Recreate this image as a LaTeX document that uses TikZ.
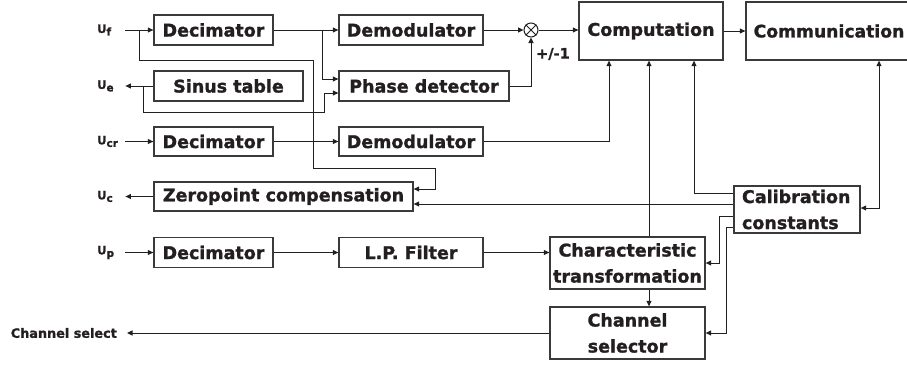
\documentclass[tikz,border=0pt]{standalone}
\usepackage{fontspec}
\setmainfont{DejaVu Sans}[BoldFeatures={FakeBold=1.3}]
\usetikzlibrary{arrows.meta}
\definecolor{Ink}{HTML}{231F20}
\definecolor{Frame}{HTML}{3A3A3A}
\newcommand{\sig}[1]{U\raisebox{-2.5pt}{\fontsize{10.5}{10.5}\selectfont #1}}
\tikzset{
  block/.style={draw=Frame, line width=1.3pt, text=Ink, inner sep=0pt,
    font=\fontsize{17.5}{26}\selectfont\bfseries},
  port/.style={text=Ink, inner sep=0pt, anchor=west, text width=28pt, align=left,
    font=\fontsize{11.5}{11.5}\selectfont\bfseries},
  wire/.style={draw=Ink, line width=1pt},
  feed/.style={wire, -{Triangle[length=5.5pt,width=5pt]}},
  both/.style={wire, {Triangle[length=5.5pt,width=5pt]}-{Triangle[length=5.5pt,width=5pt]}},
}

\begin{document}
\begin{tikzpicture}[x=1pt,y=-1pt]
    \useasboundingbox (0,0) rectangle (907,364);

    % signals on the left
    \node[port] (uf) at (97,30) {\sig{f}};
    \node[port] (ue) at (97,86) {\sig{e}};
    \node[port] (ucr) at (97,141.5) {\sig{cr}};
    \node[port] (uc) at (97,196.5) {\sig{c}};
    \node[port] (up) at (97,252.5) {\sig{p}};
    \node[text=Ink, inner ysep=0pt, inner xsep=10pt, anchor=east,
      font=\fontsize{12.8}{13}\selectfont\bfseries] (chout) at (127,333) {Channel select};

    % blocks
    \node[block, minimum width=119pt, minimum height=30pt] (dec1) at (213.5,30) {Decimator};
    \node[block, minimum width=149pt, minimum height=30pt] (sinus) at (228.5,86) {Sinus table};
    \node[block, minimum width=144pt, minimum height=30pt] (demod1) at (411,30) {Demodulator};
    \node[block, minimum width=170pt, minimum height=30pt] (phase) at (424,86) {Phase detector};
    \node[block, minimum width=119pt, minimum height=29pt] (dec2) at (213.5,141.5) {Decimator};
    \node[block, minimum width=144pt, minimum height=29pt] (demod2) at (411,141.5) {Demodulator};
    \node[block, minimum width=259pt, minimum height=29pt] (zero) at (283.5,196.5) {Zeropoint compensation};
    \node[block, minimum width=119pt, minimum height=30pt] (dec3) at (213.5,252.5) {Decimator};
    \node[block, minimum width=144pt, minimum height=30pt] (lpf) at (411,252.5) {L.P. Filter};
    \node[block, minimum width=155pt, minimum height=52pt, align=center] (char) at (627.5,263) {Characteristic\\transformation};
    \node[block, minimum width=155pt, minimum height=52pt, align=center] (chsel) at (627.5,333) {Channel\\selector};
    \node[block, minimum width=144pt, minimum height=58pt] (comp) at (651,31) {Computation};
    \node[block, minimum width=166pt, minimum height=58pt, font=\fontsize{17.2}{26}\selectfont\bfseries] (comm) at (829,31) {Communication};
    \node[block, minimum height=47pt, text width=110pt, inner xsep=8pt, align=left] (calib) at (797,209.5) {Calibration\\constants};

    % multiplier
    \node[draw=Ink, line width=1pt, circle, minimum size=14pt, inner sep=0pt] (mult) at (531,30) {};
    \draw[wire] (mult.north west) -- (mult.south east) (mult.north east) -- (mult.south west);
    \node[text=Ink, inner sep=0pt, anchor=west, font=\fontsize{14.5}{14.5}\selectfont\bfseries] (gain) at (536,54) {+/-1};

    \coordinate (jf) at (139,30);
    \coordinate (jd) at (322,30);
    \coordinate (js) at (143,86);

    % upper paths
    \draw[feed] (uf.east) -- (dec1.west);
    \draw[feed] (jf) |- (313,60) |- (435,168) |- ([yshift=7.5pt]zero.east);
    \draw[feed] (dec1.east) -- (demod1.west);
    \draw[feed] (jd) |- ([yshift=7pt]phase.west);
    \draw[feed] (sinus.west) -- (ue.east);
    \draw[feed] (js) |- (324,112) |- ([yshift=-7pt]phase.west);
    \draw[feed] (demod1.east) -- (mult.west);
    \draw[feed] (phase.east) -| (mult.south);
    \draw[feed] (mult.east) -- (mult.east -| comp.west);
    \draw[feed] (comp.east) -- (comp.east -| comm.west);

    % middle paths
    \draw[feed] (ucr.east) -- (dec2.west);
    \draw[feed] (dec2.east) -- (demod2.west);
    \draw[feed] (demod2.east) -| ([xshift=-42pt]comp.south);
    \draw[feed] (zero.west) -- (uc.east);

    % calibration
    \draw[feed] ([yshift=16.5pt]calib.west) -| ([xshift=43pt]comp.south);
    \draw[both] ([yshift=1.5pt]calib.east) -| ([xshift=50pt]comm.south);
    \draw[feed] ([yshift=5.5pt]calib.west) -- ([yshift=-7.5pt]zero.east);
    \draw[feed] ([yshift=-6.5pt]calib.west) -- ++(-14,0) |- (char.east);
    \draw[feed] ([yshift=-17.5pt]calib.west) -- ++(-7,0) |- (chsel.east);

    % lower paths
    \draw[feed] (up.east) -- (dec3.west);
    \draw[feed] (dec3.east) -- (lpf.west);
    \draw[feed] (lpf.east) -- (lpf.east -| char.west);
    \draw[feed] ([xshift=21.5pt]char.north) -- ([xshift=21.5pt]char.north |- comp.south);
    \draw[feed] ([xshift=21.5pt]char.south) -- ([xshift=21.5pt]chsel.north);
    \draw[feed] (chsel.west) -- (chout.east);
\end{tikzpicture}
\end{document}
